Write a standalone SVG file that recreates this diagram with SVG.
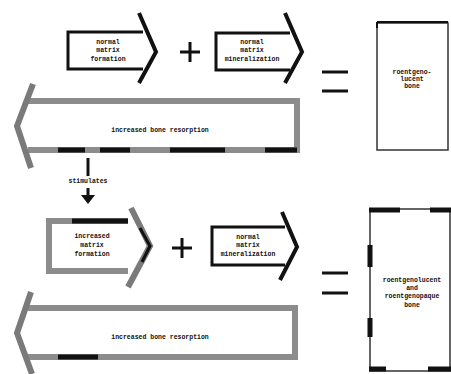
<svg xmlns="http://www.w3.org/2000/svg" width="451" height="374" viewBox="0 0 451 374">
<style>
text{font-family:"Liberation Mono","DejaVu Sans Mono",monospace;font-size:6.5px;font-weight:bold;fill:#111;text-anchor:middle}
.blk{fill:none;stroke:#111;stroke-width:3}
.chev{fill:none;stroke:#111;stroke-width:4;stroke-linejoin:miter}
.gry{fill:none;stroke:#8c8c8c;stroke-width:6}
.gchev{fill:none;stroke:#7a7a7a;stroke-width:6;stroke-linejoin:miter}
.seg{stroke:#111;stroke-width:5}
.sym{stroke:#111;stroke-width:3}
.thin{fill:none;stroke:#333;stroke-width:1.5}
</style>
<rect width="451" height="374" fill="#fff"/>

<g id="normal-matrix-formation">
<path class="blk" d="M143,32 L68,32 L68,69 L143,69"/>
<path class="chev" d="M139,13 L156,52 L139,83"/>
<text x="108" y="44">normal</text>
<text x="108" y="52">matrix</text>
<text x="108" y="61">formation</text>
</g>

<g id="plus-top">
<path class="sym" d="M180,52 H200 M190,42 V62"/>
</g>

<g id="normal-matrix-mineralization">
<path class="blk" d="M290,33 L216,33 L216,70 L290,70"/>
<path class="chev" d="M285,13 L302,52 L285,83"/>
<text x="252" y="44">normal</text>
<text x="252" y="52">matrix</text>
<text x="252" y="61">mineralization</text>
</g>

<g id="equals-top">
<path class="sym" d="M322,72 H348 M322,91 H348"/>
</g>

<g id="roentgenolucent-bone">
<path class="thin" d="M377,23 H448 V150 H377 Z"/>
<path stroke="#111" stroke-width="2" d="M377,22 H448 M377,22 V28"/>
<text x="412" y="74">roentgeno-</text>
<text x="412" y="81">lucent</text>
<text x="412" y="88">bone</text>
</g>

<g id="increased-bone-resorption-top">
<path class="gry" d="M28,101 L297,101 L297,150 L28,150"/>
<path class="gchev" d="M33,84 L17,126 L31,168"/>
<path class="seg" d="M58,150 H85 M100,150 H130 M170,150 H225 M265,150 H297"/>
<text x="160" y="132">increased bone resorption</text>
</g>

<g id="stimulates">
<text x="88" y="183">stimulates</text>
</g>

<g id="increased-matrix-formation">
<path class="gry" d="M128,221 L49,221 L49,271 L128,271"/>
<path class="seg" d="M72,221 H128"/>
<path class="gchev" d="M131,208 L150,246 L128,287"/>
<path stroke="#111" stroke-width="3" fill="none" d="M140,228 L150,246 L142,262"/>
<text x="92" y="238">increased</text>
<text x="92" y="247">matrix</text>
<text x="92" y="256">formation</text>
</g>

<g id="plus-bottom">
<path class="sym" d="M172,248 H192 M182,238 V258"/>
</g>

<g id="normal-matrix-mineralization-2">
<path class="blk" d="M285,227 L212,227 L212,265 L285,265"/>
<path class="chev" d="M282,212 L297,247 L280,280"/>
<text x="248" y="239">normal</text>
<text x="248" y="247">matrix</text>
<text x="248" y="256">mineralization</text>
</g>

<g id="equals-bottom">
<path class="sym" d="M322,273 H348 M322,293 H348"/>
</g>

<g id="roentgenolucent-and-roentgenopaque-bone">
<path class="thin" d="M370,209 H450 V371 H370 Z"/>
<path class="seg" d="M369,210 H400 M430,210 H451 M370,245 V267 M370,318 V337 M369,369 H386 M428,369 H451"/>
<text x="412" y="282">roentgenolucent</text>
<text x="412" y="290">and</text>
<text x="412" y="298">roentgenopaque</text>
<text x="412" y="307">bone</text>
</g>

<g id="increased-bone-resorption-bottom">
<path class="gry" d="M28,308 L295,308 L295,357 L28,357"/>
<path class="gchev" d="M31,292 L17,333 L32,374"/>
<path class="seg" d="M58,357 H98"/>
<text x="160" y="339">increased bone resorption</text>
</g>

<g id="connectors">
<path stroke="#111" stroke-width="3" d="M88,158 V176"/>
<path stroke="#111" stroke-width="3" d="M88,188 V198"/>
<path fill="#111" d="M81,195 L95,195 L88,204 Z"/>
</g>
</svg>
